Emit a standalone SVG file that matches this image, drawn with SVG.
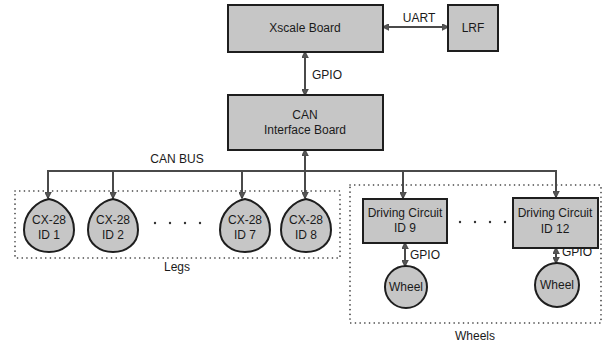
<svg xmlns="http://www.w3.org/2000/svg" width="606" height="344" viewBox="0 0 606 344">
<defs>
<marker id="ah" viewBox="0 0 10 10" refX="9" refY="5" markerWidth="7" markerHeight="7" orient="auto-start-reverse" markerUnits="userSpaceOnUse">
<path d="M0,0 L10,5 L0,10 Z" fill="#555" stroke="#333" stroke-width="1"/>
</marker>
</defs>
<style>
.box{fill:#c6c6c6;stroke:#1e1e1e;stroke-width:2}
.wire{fill:none;stroke:#4a4a4a;stroke-width:2}
.grp{fill:none;stroke:#333;stroke-width:1.6;stroke-dasharray:0.1 4.6;stroke-linecap:round}
.dot{fill:#333}
text{font-family:"Liberation Sans",Arial,sans-serif;font-size:12px;fill:#1a1a1a;text-anchor:middle}
.lbl{font-size:12px}
.lft{text-anchor:start}
</style>
<rect width="606" height="344" fill="#fff"/>
<g id="groups">
<rect class="grp" x="15" y="191" width="325" height="67"/>
<rect class="grp" x="350" y="185" width="251" height="138"/>
<text class="lbl" x="177" y="271">Legs</text>
<text class="lbl" x="475" y="340">Wheels</text>
<circle class="dot" cx="155" cy="223" r="1.2"/><circle class="dot" cx="170" cy="223" r="1.2"/><circle class="dot" cx="185" cy="223" r="1.2"/><circle class="dot" cx="200" cy="223" r="1.2"/>
<circle class="dot" cx="460" cy="222" r="1.2"/><circle class="dot" cx="475" cy="222" r="1.2"/><circle class="dot" cx="490" cy="222" r="1.2"/><circle class="dot" cx="505" cy="222" r="1.2"/>
</g>
<g id="connectors">
<line class="wire" x1="383" y1="27" x2="448" y2="27" marker-start="url(#ah)" marker-end="url(#ah)"/>
<text class="lbl" x="419" y="22">UART</text>
<line class="wire" x1="305" y1="52" x2="305" y2="95" marker-start="url(#ah)" marker-end="url(#ah)"/>
<text class="lbl lft" x="312" y="79">GPIO</text>
<line class="wire" x1="305" y1="150" x2="305" y2="198" marker-start="url(#ah)" marker-end="url(#ah)"/>
<path class="wire" d="M48,197 V171 H556 V197"/>
<line class="wire" x1="48" y1="171" x2="48" y2="198" marker-end="url(#ah)"/>
<line class="wire" x1="113" y1="171" x2="113" y2="198" marker-end="url(#ah)"/>
<line class="wire" x1="242" y1="171" x2="242" y2="198" marker-end="url(#ah)"/>
<line class="wire" x1="403" y1="171" x2="403" y2="198" marker-end="url(#ah)"/>
<line class="wire" x1="556" y1="171" x2="556" y2="197" marker-end="url(#ah)"/>
<text class="lbl" x="177" y="163">CAN BUS</text>
<line class="wire" x1="405" y1="243" x2="405" y2="266" marker-start="url(#ah)" marker-end="url(#ah)"/>
<text class="lbl lft" x="410" y="259">GPIO</text>
<line class="wire" x1="556" y1="248" x2="556" y2="263" marker-start="url(#ah)" marker-end="url(#ah)"/>
<text class="lbl lft" x="562" y="256">GPIO</text>
</g>
<g id="xscale"><rect class="box" x="228" y="5" width="155" height="47"/><text x="305" y="32">Xscale Board</text></g>
<g id="lrf"><rect class="box" x="448" y="5" width="50" height="46"/><text x="473" y="32">LRF</text></g>
<g id="can"><rect class="box" x="228" y="95" width="155" height="55"/><text x="305" y="119">CAN</text><text x="305" y="134">Interface Board</text></g>
<g id="cx1"><path class="box" d="M49,199 C60,201 74,212 74,230 C74,244 62,252 49,252 C36,252 24,244 24,230 C24,212 38,201 49,199 Z"/><text x="49" y="224">CX-28</text><text x="49" y="239">ID 1</text></g>
<g id="cx2"><path class="box" d="M113,199 C124,201 138,212 138,230 C138,244 126,252 113,252 C100,252 88,244 88,230 C88,212 102,201 113,199 Z"/><text x="113" y="224">CX-28</text><text x="113" y="239">ID 2</text></g>
<g id="cx7"><path class="box" d="M245,199 C256,201 270,212 270,230 C270,244 258,252 245,252 C232,252 220,244 220,230 C220,212 234,201 245,199 Z"/><text x="245" y="224">CX-28</text><text x="245" y="239">ID 7</text></g>
<g id="cx8"><path class="box" d="M306,199 C317,201 331,212 331,230 C331,244 319,252 306,252 C293,252 281,244 281,230 C281,212 295,201 306,199 Z"/><text x="306" y="224">CX-28</text><text x="306" y="239">ID 8</text></g>
<g id="dc9"><rect class="box" x="363" y="199" width="84" height="44"/><text x="405" y="217">Driving Circuit</text><text x="405" y="232">ID 9</text></g>
<g id="dc12"><rect class="box" x="513" y="198" width="85" height="50"/><text x="555" y="217">Driving Circuit</text><text x="555" y="233">ID 12</text></g>
<g id="wheel9"><circle class="box" cx="406" cy="287" r="21"/><text x="406" y="291">Wheel</text></g>
<g id="wheel12"><circle class="box" cx="557" cy="285" r="22"/><text x="557" y="289">Wheel</text></g>
</svg>
